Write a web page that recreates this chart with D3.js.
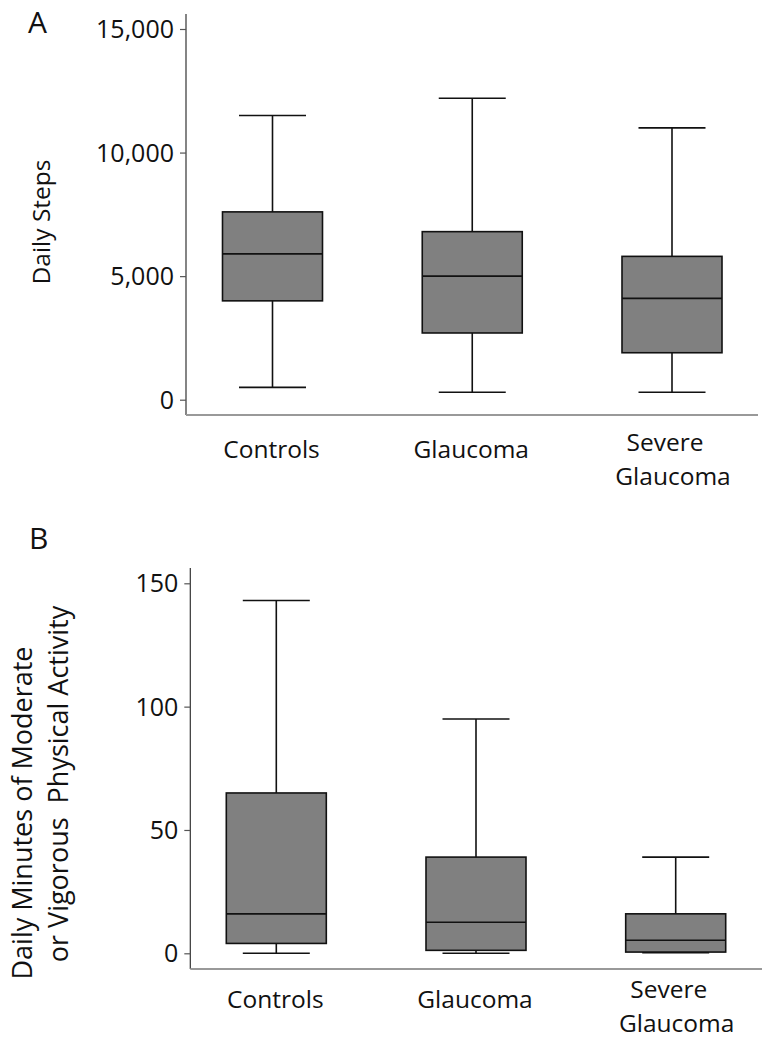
<!DOCTYPE html>
<html><head><meta charset="utf-8">
<script src="https://cdn.jsdelivr.net/npm/d3@7"></script>
<style>body{margin:0;background:#fff}svg{display:block}text{font-family:"Open Sans",sans-serif;fill:#111}</style>
</head><body>
<svg id="c" width="773" height="1042"></svg>
<script>
const categories = ["Controls", "Glaucoma", "Severe Glaucoma"];
const labelLines = [["Controls"], ["Glaucoma"], ["Severe", "Glaucoma"]];
// Panel A: daily steps
const stepsMin    = [500, 300, 300];
const stepsQ1     = [4000, 2700, 1900];
const stepsMedian = [5900, 5000, 4100];
const stepsQ3     = [7600, 6800, 5800];
const stepsMax    = [11500, 12200, 11000];
const stepsTicks  = [0, 5000, 10000, 15000];
// Panel B: daily minutes MVPA
const mvpaMin    = [0, 0, 0.2];
const mvpaQ1     = [4, 1.2, 0.5];
const mvpaMedian = [16, 12.6, 5.3];
const mvpaQ3     = [65, 39, 16];
const mvpaMax    = [143, 95, 39];
const mvpaTicks  = [0, 50, 100, 150];

const svg = d3.select("#c");

function panel(o) {
  const g = svg.append("g");
  const y = d3.scaleLinear().domain([0, o.ticks[o.ticks.length-1]]).range([o.y0, o.y1]);
  const x = d3.scalePoint().domain(categories).range(o.xr);
  // axes lines
  g.append("line").attr("x1", o.ax).attr("x2", o.ax).attr("y1", o.axTop).attr("y2", o.axBot)
    .attr("stroke", "#333").attr("stroke-width", 1.2);
  g.append("line").attr("x1", o.ax).attr("x2", o.axRight).attr("y1", o.axBot).attr("y2", o.axBot)
    .attr("stroke", "#999").attr("stroke-width", 2);
  const axis = d3.axisLeft(y).tickValues(o.ticks).tickSize(6).tickPadding(6)
    .tickFormat(o.fmt);
  const ag = g.append("g").attr("transform", `translate(${o.ax},0)`).call(axis);
  ag.select(".domain").remove();
  ag.selectAll(".tick line").attr("stroke", "#555").attr("stroke-width", 1.2);
  ag.selectAll(".tick text").attr("font-size", 25).attr("fill", "#111")
    .attr("font-family", "Open Sans, sans-serif").attr("dy", "0.34em");
  const bw = 100, cw = 67;
  const d = categories.map((c, i) => ({c, lo: o.min[i], q1: o.q1[i], med: o.med[i], q3: o.q3[i], hi: o.max[i], i}));
  const b = g.selectAll(".box").data(d).join("g");
  b.append("line").attr("x1", e => x(e.c)).attr("x2", e => x(e.c))
    .attr("y1", e => y(e.hi)).attr("y2", e => y(e.lo)).attr("stroke", "#111").attr("stroke-width", 1.6);
  b.append("line").attr("x1", e => x(e.c) - cw/2).attr("x2", e => x(e.c) + cw/2)
    .attr("y1", e => y(e.hi)).attr("y2", e => y(e.hi)).attr("stroke", "#111").attr("stroke-width", 1.6);
  b.append("line").attr("x1", e => x(e.c) - cw/2).attr("x2", e => x(e.c) + cw/2)
    .attr("y1", e => y(e.lo)).attr("y2", e => y(e.lo)).attr("stroke", "#111").attr("stroke-width", 1.6);
  b.append("rect").attr("x", e => x(e.c) - bw/2).attr("width", bw)
    .attr("y", e => y(e.q3)).attr("height", e => y(e.q1) - y(e.q3))
    .attr("fill", "#808080").attr("stroke", "#111").attr("stroke-width", 1.6);
  b.append("line").attr("x1", e => x(e.c) - bw/2).attr("x2", e => x(e.c) + bw/2)
    .attr("y1", e => y(e.med)).attr("y2", e => y(e.med)).attr("stroke", "#111").attr("stroke-width", 1.6);
  // x labels
  labelLines.forEach((lines, i) => {
    lines.forEach((t, j) => {
      const off = lines.length > 1 ? (j === 0 ? -7 : 1) : -1;
      const base = lines.length > 1 ? o.lab2[j] : o.lab1;
      g.append("text").attr("x", x(categories[i]) + off).attr("y", base)
        .attr("text-anchor", "middle").attr("font-size", 24.5).text(t);
    });
  });
  // panel letter
  g.append("text").attr("x", o.letterX).attr("y", o.letterY).attr("font-size", 30).text(o.letter);
  // y title
  o.title.forEach(tt => {
    g.append("text").attr("transform", `translate(${tt.x},${tt.y}) rotate(-90)`)
      .attr("text-anchor", "middle").attr("font-size", tt.fs).style("white-space", "pre").text(tt.t);
  });
}

panel({
  min: stepsMin, q1: stepsQ1, med: stepsMedian, q3: stepsQ3, max: stepsMax, ticks: stepsTicks,
  fmt: d3.format(","), y0: 399.7, y1: 29, xr: [272.5, 672], ax: 186, axTop: 14, axBot: 415, axRight: 758,
  lab1: 458, lab2: [451, 485], letter: "A", letterX: 28, letterY: 33,
  title: [{t: "Daily Steps", x: 50, y: 222, fs: 24.5}]
});
panel({
  min: mvpaMin, q1: mvpaQ1, med: mvpaMedian, q3: mvpaQ3, max: mvpaMax, ticks: mvpaTicks,
  fmt: d3.format("d"), y0: 953.3, y1: 583.3, xr: [276.3, 675.7], ax: 190.3, axTop: 568, axBot: 969, axRight: 762,
  lab1: 1008, lab2: [998, 1032], letter: "B", letterX: 29, letterY: 549,
  title: [{t: "Daily Minutes of Moderate", x: 31.5, y: 813, fs: 27},
          {t: "or Vigorous  Physical Activity", x: 68, y: 784, fs: 27}]
});
</script>
</body></html>
